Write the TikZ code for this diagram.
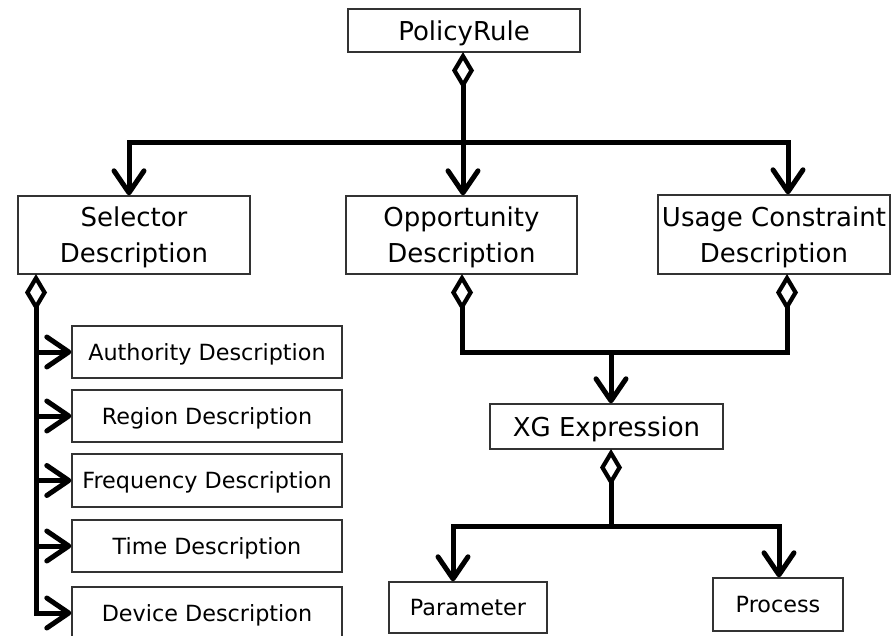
\documentclass[tikz,border=0pt]{standalone}
\usepackage{fontspec}
\setmainfont{DejaVu Sans}
\usetikzlibrary{arrows.meta}

\tikzset{
  box/.style={draw=black!80, line width=1.4pt, rectangle, inner sep=0pt,
              align=center, text=black, text depth=0pt},
  bigbox/.style={box, font=\fontsize{26}{36}\selectfont},
  smallbox/.style={box, font=\fontsize{22.3}{26}\selectfont},
  link/.style={line width=5pt, line join=miter},
  barb/.tip={Straight Barb[length=22pt, width=30pt, line width=5pt, round]},
  agg/.tip={Diamond[open, length=37pt, width=22pt, line width=4.2pt]},
  arr/.style={link, -barb},
  hold/.style={link, agg-},
}

\begin{document}
\begin{tikzpicture}[x=1pt, y=-1pt]
\useasboundingbox (0,0) rectangle (891,636);

% classes
\node[bigbox, minimum width=232pt, minimum height=43pt] (pr)  at (464,30.5) {PolicyRule};
\node[bigbox, minimum width=232pt, minimum height=78pt] (sel) at (134,235) {Selector\\Description};
\node[bigbox, minimum width=231pt, minimum height=78pt] (opp) at (461.5,235) {Opportunity\\Description};
\node[bigbox, minimum width=232pt, minimum height=79pt] (use) at (774,234.5) {Usage Constraint\\Description};

\node[smallbox, minimum width=270pt, minimum height=52pt] (auth) at (207,352) {Authority Description};
\node[smallbox, minimum width=270pt, minimum height=52pt] (reg)  at (207,416) {Region Description};
\node[smallbox, minimum width=270pt, minimum height=53pt] (freq) at (207,480.5) {Frequency Description};
\node[smallbox, minimum width=270pt, minimum height=52pt] (time) at (207,546) {Time Description};
\node[smallbox, minimum width=270pt, minimum height=52pt] (dev)  at (207,613) {Device Description};

\node[bigbox, minimum width=233pt, minimum height=45pt] (xg) at (606.5,426.5) {XG Expression};
\node[smallbox, minimum width=158pt, minimum height=51pt] (par)  at (468,607.5) {Parameter};
\node[smallbox, minimum width=130pt, minimum height=53pt] (proc) at (778,604.5) {Process};

% junction points
\coordinate (prb) at (463,52);
\coordinate (hl)  at (129,143);
\coordinate (hr)  at (788,143);
\coordinate (sb)  at (36,274);
\coordinate (ob)  at (462,274);
\coordinate (ub)  at (787,274);
\coordinate (j1)  at (611,352);
\coordinate (xgb) at (611,449);
\coordinate (pl)  at (453,526);
\coordinate (pr2) at (779,526);

% PolicyRule aggregation
\draw[hold] (prb) -- (prb |- hl);
\draw[arr] (prb |- hl) -- (prb |- opp.north);
\draw[arr] (prb |- hl) -- (hl) -- (hl |- sel.north);
\draw[arr] (prb |- hl) -- (hr) -- (hr |- use.north);

% Selector aggregation
\draw[hold] (sb) -- (sb |- auth.west);
\draw[arr] (sb |- auth.west) -- (sb |- dev.west) -- (dev.west);
\draw[arr] (sb |- auth.west) -- (auth.west);
\draw[arr] (sb |- reg.west) -- (reg.west);
\draw[arr] (sb |- freq.west) -- (freq.west);
\draw[arr] (sb |- time.west) -- (time.west);

% Opportunity / Usage Constraint aggregation
\draw[hold] (ob) -- (ob |- j1) -- (j1);
\draw[hold] (ub) -- (ub |- j1) -- (j1);
\draw[arr] (j1) -- (j1 |- xg.north);

% XG Expression aggregation
\draw[hold] (xgb) -- (xgb |- pl);
\draw[arr] (xgb |- pl) -- (pl) -- (pl |- par.north);
\draw[arr] (xgb |- pl) -- (pr2) -- (pr2 |- proc.north);
\end{tikzpicture}
\end{document}
